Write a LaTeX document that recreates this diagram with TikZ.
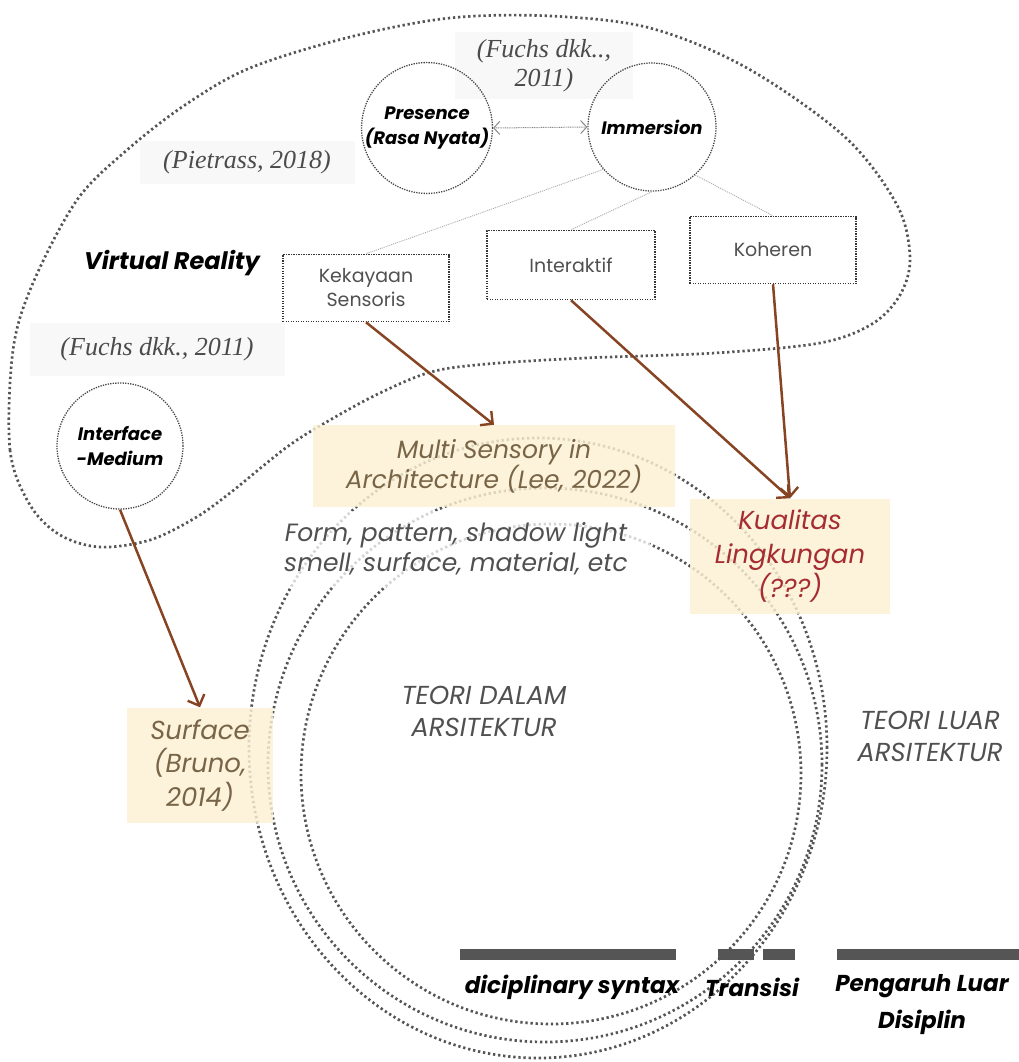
\documentclass[tikz,border=0pt]{standalone}
\usepackage{fontspec}
\setmainfont{Liberation Serif}
\newfontfamily\gothic{Poppins}
\usetikzlibrary{arrows.meta}

\definecolor{dotgray}{RGB}{70,70,70}
\definecolor{ringgray}{RGB}{85,85,85}
\definecolor{spokegray}{RGB}{170,170,170}
\definecolor{beigefill}{RGB}{251,240,210}
\definecolor{browntext}{RGB}{120,100,70}
\definecolor{redtext}{RGB}{165,45,50}
\definecolor{arrowbrown}{RGB}{135,68,35}
\definecolor{citegray}{RGB}{75,75,75}
\definecolor{faintbg}{RGB}{248,248,248}
\definecolor{bargray}{RGB}{85,85,85}
\definecolor{labelgray}{RGB}{80,80,80}

\tikzset{
  dotcirc/.style={circle, draw=dotgray, line width=1.3pt, dash pattern=on 1.3pt off 1.2pt,
    minimum size=128pt, inner sep=0pt, align=center,
    font=\gothic\bfseries\itshape\fontsize{18}{25}\selectfont},
  dotbox/.style={rectangle, draw=black!80, line width=1.5pt, dash pattern=on 1.3pt off 1.2pt,
    inner sep=0pt, align=center, text=labelgray, font=\gothic\fontsize{19}{24}\selectfont},
  beigebox/.style={rectangle, fill=beigefill, fill opacity=0.82, text opacity=1, inner sep=0pt,
    align=center, text=browntext, font=\gothic\itshape\fontsize{25}{30}\selectfont},
  citebox/.style={rectangle, fill=faintbg, inner sep=0pt, align=center, text=citegray,
    font=\itshape\fontsize{26}{29}\selectfont},
  brarrow/.style={draw=arrowbrown, line width=2.5pt,
    -{Straight Barb[length=9pt,width=18pt,line width=2.4pt]}},
  spoke/.style={draw=spokegray, line width=0.9pt, dash pattern=on 1pt off 1pt},
  bigring/.style={draw=ringgray, line width=2.7pt, dash pattern=on 2.3pt off 2.8pt},
  blobline/.style={draw=ringgray, line width=2.7pt, dash pattern=on 2.3pt off 2.8pt},
  barbox/.style={rectangle, fill=bargray, inner sep=0pt, minimum height=11pt},
  barlabel/.style={align=center, font=\gothic\bfseries\itshape\fontsize{23}{37}\selectfont},
  zonelabel/.style={align=center, text=labelgray, font=\gothic\itshape\fontsize{26}{32}\selectfont}
}

\begin{document}
\begin{tikzpicture}[x=1pt,y=-1pt]
\useasboundingbox (0,0) rectangle (1019,1062);

% faint panels behind the citations
\node[citebox, minimum width=178pt, minimum height=67pt] (citeA) at (544,66) {(Fuchs dkk..,\\2011)};
\node[citebox, minimum width=215pt, minimum height=43pt] (citeB) at (247,162) {(Pietrass, 2018)};
\node[citebox, minimum width=255pt, minimum height=53pt] (citeC) at (157,349) {(Fuchs dkk., 2011)};

% the Virtual Reality cloud
\draw[blobline] plot[smooth cycle, tension=0.55] coordinates {
  (13,350) (10,450) (30,505) (60,535) (100,547) (150,540) (195,518) (230,493)
  (287,447) (330,420) (380,393) (431,372) (487,364) (585,358) (715,353)
  (820,343) (872,324) (900,295) (910,258) (897,205) (845,137) (747,68)
  (650,28) (550,16) (450,18) (350,37) (250,68) (185,105) (127,150) (77,200) (33,283)};

% three overlapping rings of architectural theory
\draw[bigring] (538,748) ellipse [x radius=289pt, y radius=310pt];
\draw[bigring] (545,765) circle [radius=277pt];
\draw[bigring] (551,774) circle [radius=250pt];

% concept circles
\node[dotcirc] (pres) at (427,128) {Presence\\(Rasa Nyata)};
\node[dotcirc] (imm) at (652,127) {Immersion};
\node[dotcirc, minimum size=126pt] (intf) at (120,446) {Interface\\-Medium};

% immersion components
\node[dotbox, minimum width=166pt, minimum height=67pt] (kek) at (366,288) {Kekayaan\\Sensoris};
\node[dotbox, minimum width=168pt, minimum height=69pt] (inter) at (571,265) {Interaktif};
\node[dotbox, minimum width=166pt, minimum height=67pt] (koh) at (773,250) {Koheren};

\draw[spoke] (imm.221) -- (kek.north);
\draw[spoke] (imm.south) -- (inter.north);
\draw[spoke] (imm.-48) -- (koh.north);

\draw[draw=spokegray!80!black, line width=1pt, dash pattern=on 1pt off 0.8pt,
  {Straight Barb[length=6pt,width=13pt,line width=1pt]}-{Straight Barb[length=6pt,width=13pt,line width=1pt]}]
  (pres.east) -- (imm.west);

% text labels
\node[font=\gothic\bfseries\itshape\fontsize{24}{28}\selectfont] (vr) at (172,263) {Virtual Reality};

% highlighted references
\node[beigebox, minimum width=362pt, minimum height=82pt] (msa) at (494,466) {Multi Sensory in\\Architecture (Lee, 2022)};
\node[rectangle, fill=white, fill opacity=0.75, text opacity=1, inner sep=0pt,
  minimum width=388pt, minimum height=76pt, align=center, text=labelgray,
  font=\gothic\itshape\fontsize{25}{30}\selectfont] (form) at (456,549)
  {Form, pattern, shadow light\\smell, surface, material, etc};
\node[beigebox, text=redtext, minimum width=200pt, minimum height=115pt,
  font=\gothic\itshape\fontsize{26}{34}\selectfont] (kual) at (790,556) {Kualitas\\Lingkungan\\(???)};
\node[beigebox, minimum width=146pt, minimum height=115pt,
  font=\gothic\itshape\fontsize{26}{33.5}\selectfont] (surf) at (200,765) {Surface\\(Bruno,\\2014)};

% brown links
\draw[brarrow] (kek.south) -- (msa.north);
\draw[brarrow] (inter.south) -- (kual.north);
\draw[brarrow] (koh.south) -- (kual.north);
\draw[brarrow] (intf.south) -- (surf.north);

% zone labels
\node[zonelabel] (dalam) at (484,711) {TEORI DALAM\\ARSITEKTUR};
\node[zonelabel] (luar) at (930,736) {TEORI LUAR\\ARSITEKTUR};

% bottom scale
\node[barbox, minimum width=216pt] (bar1) at (568,954) {};
\node[barbox, minimum width=36pt] (bar2a) at (736,954) {};
\node[barbox, minimum width=32pt] (bar2b) at (779,954) {};
\node[barbox, minimum width=183pt] (bar3) at (928,954) {};

\node[barlabel] (syn) at (572,987) {diciplinary syntax};
\node[barlabel] (trans) at (752,987) {Transisi};
\node[barlabel] (peng) at (922,1005) {Pengaruh Luar\\Disiplin};
\end{tikzpicture}
\end{document}
